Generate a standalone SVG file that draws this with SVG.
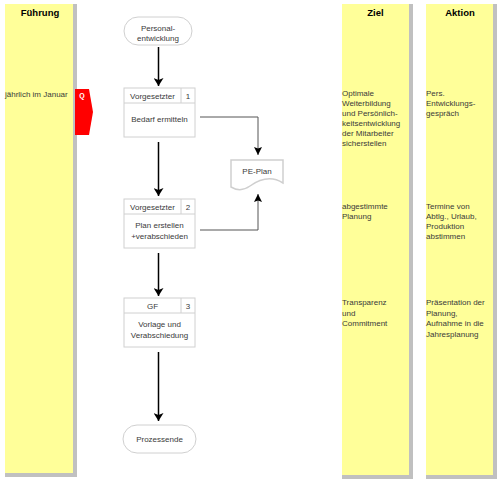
<svg xmlns="http://www.w3.org/2000/svg" width="500" height="484" viewBox="0 0 500 484">
<style>
.shadow{fill:#c0c0c0}
.lane{fill:#ffff99}
.hdr{font-family:"Liberation Sans",Arial,sans-serif;font-size:9.5px;font-weight:bold;fill:#000;text-anchor:middle}
.t{font-family:"Liberation Sans",Arial,sans-serif;font-size:8px;fill:#3a3a3a}
.c{text-anchor:middle}
.box{fill:#fff;stroke:#d0d0d0;stroke-width:1}
.flow{stroke:#000;stroke-width:1.5;fill:none}
.conn{stroke:#555;stroke-width:1;fill:none}
</style>
<defs>
<marker id="ah" markerWidth="8" markerHeight="10" refX="8" refY="5" orient="auto" markerUnits="userSpaceOnUse">
<path d="M0,0 L8,5 L0,10 L2,5 Z" fill="#000"/>
</marker>
<marker id="ah2" markerWidth="8" markerHeight="8" refX="8" refY="4" orient="auto" markerUnits="userSpaceOnUse">
<path d="M0,0 L8,4 L0,8 L1.5,4 Z" fill="#000"/>
</marker>
</defs>
<rect width="500" height="484" fill="#fff"/>

<g id="lane-fuehrung">
<rect class="shadow" x="5" y="4" width="72" height="473"/>
<rect class="lane" x="5" y="4" width="68" height="469"/>
<text class="hdr" x="40" y="16">Führung</text>
<text class="t" x="5" y="97">jährlich im Januar</text>
</g>

<g id="lane-ziel">
<rect class="shadow" x="342" y="4" width="71" height="475"/>
<rect class="lane" x="342" y="4" width="67" height="471"/>
<text class="hdr" x="375.5" y="16">Ziel</text>
<text class="t" x="342" y="96"><tspan x="342">Optimale</tspan><tspan x="342" dy="10">Weiterbildung</tspan><tspan x="342" dy="10">und Persönlich-</tspan><tspan x="342" dy="10">keitsentwicklung</tspan><tspan x="342" dy="10">der Mitarbeiter</tspan><tspan x="342" dy="10">sicherstellen</tspan></text>
<text class="t" x="342" y="209"><tspan x="342">abgestimmte</tspan><tspan x="342" dy="10">Planung</tspan></text>
<text class="t" x="342" y="305"><tspan x="342">Transparenz</tspan><tspan x="342" dy="10.5">und</tspan><tspan x="342" dy="10.5">Commitment</tspan></text>
</g>

<g id="lane-aktion">
<rect class="shadow" x="426" y="4" width="71" height="475"/>
<rect class="lane" x="426" y="4" width="67" height="471"/>
<text class="hdr" x="460" y="16">Aktion</text>
<text class="t" x="426" y="96"><tspan x="426">Pers.</tspan><tspan x="426" dy="10">Entwicklungs-</tspan><tspan x="426" dy="10">gespräch</tspan></text>
<text class="t" x="426" y="209"><tspan x="426">Termine von</tspan><tspan x="426" dy="10">Abtlg., Urlaub,</tspan><tspan x="426" dy="10">Produktion</tspan><tspan x="426" dy="10">abstimmen</tspan></text>
<text class="t" x="426" y="305"><tspan x="426">Präsentation der</tspan><tspan x="426" dy="10.5">Planung,</tspan><tspan x="426" dy="10.5">Aufnahme in die</tspan><tspan x="426" dy="10.5">Jahresplanung</tspan></text>
</g>

<g id="tag-q">
<polygon points="75,89 89,89 93,112 89,135 75,135" fill="#ff0000"/>
<text x="82" y="98" font-family="Liberation Sans,Arial,sans-serif" font-size="7" font-weight="bold" fill="#fff" text-anchor="middle">Q</text>
</g>

<g id="connectors">
<line class="flow" x1="158.5" y1="47" x2="158.5" y2="86" marker-end="url(#ah)"/>
<line class="flow" x1="158.5" y1="142" x2="158.5" y2="196" marker-end="url(#ah)"/>
<line class="flow" x1="158.5" y1="253" x2="158.5" y2="296" marker-end="url(#ah)"/>
<line class="flow" x1="158.5" y1="352" x2="158.5" y2="421" marker-end="url(#ah)"/>
<polyline class="conn" points="200,117 258,117 258,155" marker-end="url(#ah2)"/>
<polyline class="conn" points="200,230 258,230 258,194" marker-end="url(#ah2)"/>
</g>

<g id="start">
<rect x="124" y="17" width="68" height="28" rx="14" ry="14" class="box"/>
<text class="t c" x="158" y="30.5">Personal-</text>
<text class="t c" x="158" y="41">entwicklung</text>
</g>

<g id="step1">
<rect x="124" y="88" width="71" height="49" class="box"/>
<line x1="124" y1="103" x2="195" y2="103" stroke="#d0d0d0"/>
<line x1="181" y1="88" x2="181" y2="103" stroke="#d0d0d0"/>
<text class="t c" x="152.5" y="98.5">Vorgesetzter</text>
<text class="t c" x="188" y="98.5">1</text>
<text class="t c" x="159.5" y="121.5">Bedarf ermitteln</text>
</g>

<g id="step2">
<rect x="124" y="199" width="71" height="49" class="box"/>
<line x1="124" y1="214" x2="195" y2="214" stroke="#d0d0d0"/>
<line x1="181" y1="199" x2="181" y2="214" stroke="#d0d0d0"/>
<text class="t c" x="152.5" y="209.5">Vorgesetzter</text>
<text class="t c" x="188" y="209.5">2</text>
<text class="t c" x="159.5" y="228">Plan erstellen</text>
<text class="t c" x="159.5" y="239">+verabschieden</text>
</g>

<g id="step3">
<rect x="124" y="298" width="71" height="49" class="box"/>
<line x1="124" y1="313" x2="195" y2="313" stroke="#d0d0d0"/>
<line x1="181" y1="298" x2="181" y2="313" stroke="#d0d0d0"/>
<text class="t c" x="152.5" y="308.5">GF</text>
<text class="t c" x="188" y="308.5">3</text>
<text class="t c" x="159.5" y="327">Vorlage und</text>
<text class="t c" x="159.5" y="338">Verabschiedung</text>
</g>

<g id="pe-plan">
<path d="M231,160 L283,160 L283,183 C272,176 260,179 250,186 C243,191 236,190 231,187 Z" fill="#fff" stroke="#cfcfcf" stroke-width="1.5"/>
<text class="t c" x="257" y="174">PE-Plan</text>
</g>

<g id="end">
<rect x="123" y="425" width="73" height="28" rx="14" ry="14" class="box"/>
<text class="t c" x="159.5" y="442">Prozessende</text>
</g>
</svg>
